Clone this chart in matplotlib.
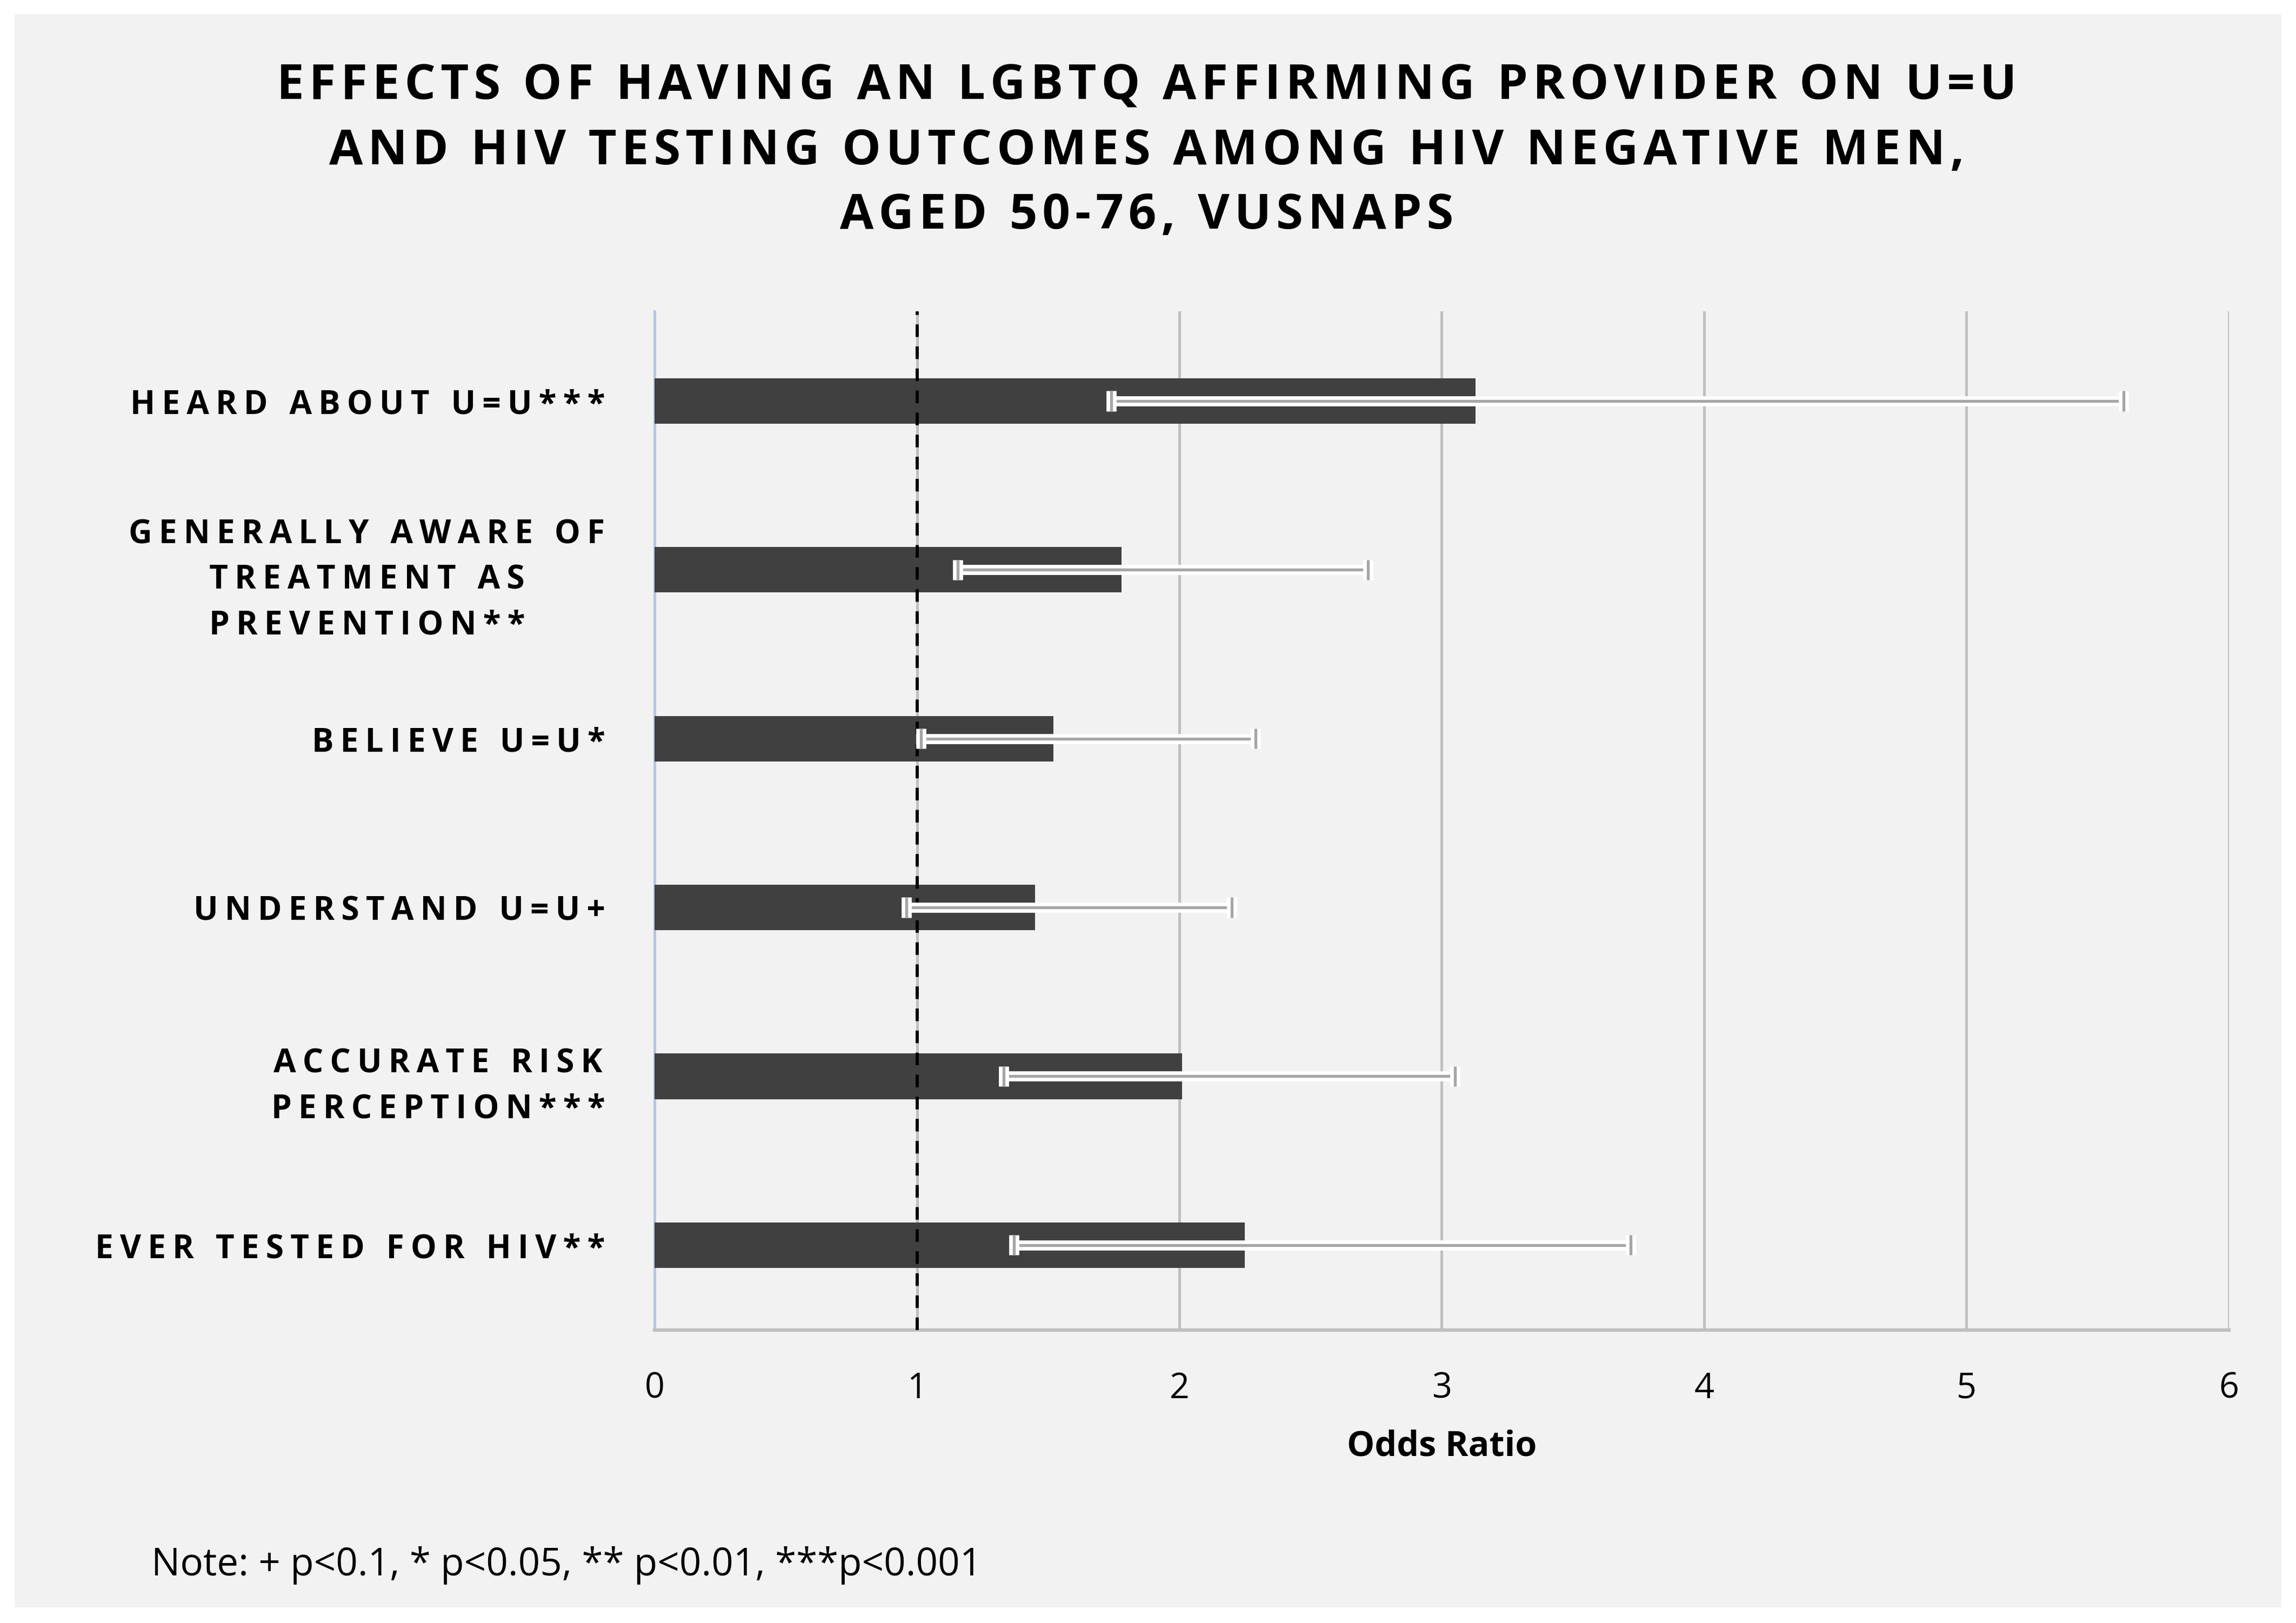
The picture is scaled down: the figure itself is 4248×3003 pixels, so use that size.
"""Odds ratios of U=U / HIV testing outcomes for an LGBTQ affirming provider."""

import matplotlib

matplotlib.use("Agg")
import matplotlib.pyplot as plt
import matplotlib.patheffects as pe
from matplotlib.patches import Rectangle

categories = [
    "HEARD ABOUT U=U***",
    "GENERALLY AWARE OF\nTREATMENT AS\nPREVENTION**",
    "BELIEVE U=U*",
    "UNDERSTAND U=U+",
    "ACCURATE RISK\nPERCEPTION***",
    "EVER TESTED FOR HIV**",
]
odds_ratio = [3.13, 1.78, 1.52, 1.45, 2.01, 2.25]
ci_low = [1.74, 1.155, 1.015, 0.96, 1.33, 1.37]
ci_high = [5.60, 2.72, 2.29, 2.20, 3.05, 3.72]
xticks = [0, 1, 2, 3, 4, 5, 6]

TITLE = (
    "EFFECTS OF HAVING AN LGBTQ AFFIRMING PROVIDER ON U=U\n"
    "AND HIV TESTING OUTCOMES AMONG HIV NEGATIVE MEN,\n"
    "AGED 50-76, VUSNAPS"
)
NOTE = "Note: + p<0.1, * p<0.05, ** p<0.01, ***p<0.001"

FONT = ["Open Sans", "DejaVu Sans"]
BG = "#f2f2f2"


def spaced(text: str, gap: str = "\u2009") -> str:
    """Fake letter spacing by putting a thin space between glyphs."""
    lines = text.split("\n")
    return "\n".join(gap.join(line) for line in lines)


def main() -> None:
    plt.rcParams["font.family"] = FONT
    fig = plt.figure(figsize=(14.16, 10.013), dpi=300, facecolor="white")
    fig.patches.append(
        Rectangle((0.0064, 0.0095), 0.9872, 0.9815, transform=fig.transFigure,
                  facecolor=BG, edgecolor="none", zorder=-10)
    )

    ax = fig.add_axes([0.2851, 0.1805, 0.6856, 0.6273])
    ax.set_facecolor(BG)

    y = list(range(len(categories)))
    ax.barh(y, odds_ratio, height=0.27, color="#404040", zorder=3)

    xerr = [
        [o - lo for o, lo in zip(odds_ratio, ci_low)],
        [hi - o for o, hi in zip(odds_ratio, ci_high)],
    ]
    _, caps, bars = ax.errorbar(
        odds_ratio, y, xerr=xerr, fmt="none", ecolor="#a6a6a6",
        elinewidth=1.3, capsize=4.5, capthick=1.3, zorder=5,
    )
    glow = [pe.Stroke(linewidth=4.5, foreground="white"), pe.Normal()]
    for art in list(caps) + list(bars):
        art.set_path_effects(glow)

    ax.axvline(1, color="black", linestyle=(0, (4, 3)), linewidth=1.4, zorder=4)

    ax.set_xlim(0, 6)
    ax.set_ylim(len(categories) - 0.497, -0.53)
    ax.set_xticks(xticks)
    ax.set_xticklabels([str(t) for t in xticks], fontsize=15.5)
    ax.grid(axis="x", color="#bfbfbf", linewidth=1.2, zorder=0)
    ax.set_axisbelow(True)
    ax.tick_params(axis="x", length=0, pad=18)

    ax.set_yticks(y)
    ax.set_yticklabels([spaced(c) for c in categories], fontsize=14.5,
                       fontweight="bold", linespacing=1.5)
    for lab in ax.get_yticklabels():
        lab.set_multialignment("center")
    ax.tick_params(axis="y", length=0, pad=22)

    for side in ("top", "right"):
        ax.spines[side].set_visible(False)
    ax.spines["left"].set_color("#b4c7e7")
    ax.spines["left"].set_linewidth(1.0)
    ax.spines["bottom"].set_color("#bfbfbf")
    ax.spines["bottom"].set_linewidth(1.5)

    ax.set_xlabel("Odds Ratio", fontsize=15.5, fontweight="bold", labelpad=10)

    fig.text(0.4995, 0.9066, spaced(TITLE, "\u200a"), ha="center", va="center",
             fontsize=21.7, fontweight="bold", linespacing=1.44)
    fig.text(0.066, 0.036, NOTE, ha="left", va="center", fontsize=17)

    fig.savefig("out.png", dpi=300, facecolor=fig.get_facecolor())


if __name__ == "__main__":
    main()
